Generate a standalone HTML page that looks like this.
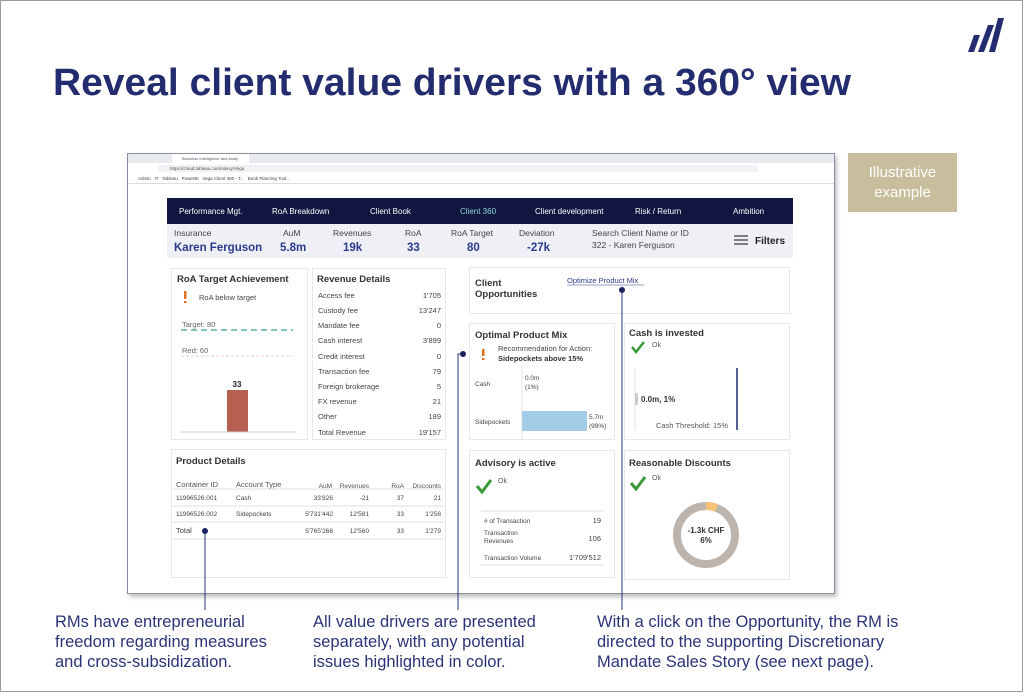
<!DOCTYPE html>
<html><head><meta charset="utf-8"><style>
*{margin:0;padding:0;box-sizing:border-box}
body{width:1024px;height:693px;background:#fff;position:relative;overflow:hidden;font-family:"Liberation Sans",sans-serif}
.a{position:absolute}
.p{position:absolute;background:#fff;border:1px solid #e6e8ee}
.bt{position:absolute;font-size:16.5px;line-height:20px;color:#2b3478}
</style></head><body>
<div class="a" style="left:0;top:0;width:1023px;height:692px;border:1px solid #9a9a9a"></div>
<svg class="a" style="left:0;top:0" width="1024" height="693">
<text x="53" y="95" font-size="38" font-weight="bold" fill="#232c6e" font-family="Liberation Sans" textLength="798" lengthAdjust="spacingAndGlyphs">Reveal client value drivers with a 360° view</text>
<g fill="#232c6e"><polygon points="968,52 974,52 980,35 974,35"/><polygon points="978,52 984,52 994,25 988,25"/><polygon points="989,52 995,52 1004,18 998,18"/></g>
</svg>
<div class="a" style="left:848px;top:153px;width:109px;height:59px;background:#c8bd9c;color:#fff;font-size:15px;line-height:20px;text-align:center;padding-top:10px">Illustrative<br>example</div>
<div class="a" style="left:127px;top:153px;width:708px;height:441px;background:#fff;border:1px solid #8a8fa8;box-shadow:2px 3px 4px rgba(0,0,0,.25)"></div>
<div class="a" style="left:128px;top:154px;width:706px;height:9px;background:#e8eaef"></div>
<div class="a" style="left:172px;top:154px;width:77px;height:9px;background:#fff;font-size:4px;color:#555;padding:2px 0 0 10px">Business Intelligence and Analy</div>
<div class="a" style="left:128px;top:163px;width:706px;height:11px;background:#fff"></div>
<div class="a" style="left:158px;top:165px;width:600px;height:7px;background:#f0f1f4;border-radius:3px;font-size:4.5px;color:#555;padding:1px 0 0 12px">https://cloud.tableau.com/savvy/Vega</div>
<div class="a" style="left:128px;top:174px;width:706px;height:10px;background:#fff;border-bottom:1px solid #ddd;font-size:4.5px;color:#444;padding:2px 0 0 10px">Admin &nbsp; IT &nbsp; Tableau &nbsp; PowerBI &nbsp; Vega Client 360 - T... &nbsp; Book Planning Tool...</div>
<div class="a" style="left:167px;top:198px;width:626px;height:26px;background:#10163f"></div>
<svg class="a" style="left:0;top:0" width="1024" height="693" font-family="Liberation Sans">
<g font-size="8" fill="#fff"><text x="179" y="214">Performance Mgt.</text><text x="272" y="214">RoA Breakdown</text><text x="370" y="214">Client Book</text><text x="460" y="214" fill="#8fd6e0">Client 360</text><text x="535" y="214">Client development</text><text x="635" y="214">Risk / Return</text><text x="733" y="214">Ambition</text></g>
</svg>
<div class="a" style="left:167px;top:224px;width:626px;height:34px;background:#eef0f5"></div>
<svg class="a" style="left:0;top:0" width="1024" height="693" font-family="Liberation Sans">
<g font-size="8.5" fill="#444"><text x="174" y="236">Insurance</text><text x="283" y="236">AuM</text><text x="333" y="236">Revenues</text><text x="405" y="236">RoA</text><text x="451" y="236">RoA Target</text><text x="519" y="236">Deviation</text><text x="592" y="236">Search Client Name or ID</text><text x="592" y="248">322 - Karen Ferguson</text></g>
<g font-size="11.5" font-weight="bold" fill="#2a3a8c"><text x="174" y="251">Karen Ferguson</text><text x="280" y="251">5.8m</text><text x="343" y="251">19k</text><text x="407" y="251">33</text><text x="467" y="251">80</text><text x="527" y="251">-27k</text></g>
<g stroke="#333" stroke-width="1.2"><line x1="734" y1="236" x2="748" y2="236"/><line x1="734" y1="240" x2="748" y2="240"/><line x1="734" y1="244" x2="748" y2="244"/></g>
<text x="755" y="244" font-size="10" font-weight="bold" fill="#222">Filters</text>
</svg>
<div class="p" style="left:171px;top:268px;width:137px;height:172px"></div>
<div class="p" style="left:312px;top:268px;width:134px;height:172px"></div>
<div class="p" style="left:171px;top:449px;width:275px;height:129px"></div>
<div class="p" style="left:469px;top:267px;width:321px;height:47px"></div>
<div class="p" style="left:469px;top:323px;width:146px;height:117px"></div>
<div class="p" style="left:624px;top:323px;width:166px;height:117px"></div>
<div class="p" style="left:469px;top:450px;width:146px;height:128px"></div>
<div class="p" style="left:624px;top:450px;width:166px;height:130px"></div>
<svg class="a" style="left:0;top:0" width="1024" height="693" font-family="Liberation Sans">
<g font-size="9.5" font-weight="bold" fill="#333">
<text x="177" y="282">RoA Target Achievement</text><text x="317" y="282">Revenue Details</text><text x="176" y="464">Product Details</text>
<text x="475" y="286">Client</text><text x="475" y="297">Opportunities</text>
<text x="475" y="338">Optimal Product Mix</text><text x="629" y="336">Cash is invested</text>
<text x="475" y="466">Advisory is active</text><text x="629" y="466">Reasonable Discounts</text></g>
<rect x="184" y="291" width="2.5" height="8" fill="#e07020"/><rect x="184" y="301" width="2.5" height="2" fill="#e07020"/>
<text x="199" y="300" font-size="7.5" fill="#444">RoA below target</text>
<text x="182" y="327" font-size="7.5" fill="#666">Target: 80</text>
<line x1="181" y1="330" x2="293" y2="330" stroke="#5fb0a8" stroke-width="1.5" stroke-dasharray="6,4"/>
<text x="182" y="353" font-size="7.5" fill="#666">Red: 60</text>
<line x1="181" y1="356" x2="293" y2="356" stroke="#f0d0c8" stroke-width="1" stroke-dasharray="3,2"/>
<rect x="227" y="390" width="21" height="42" fill="#b56050"/>
<text x="237" y="387" font-size="8" font-weight="bold" fill="#222" text-anchor="middle">33</text>
<line x1="181" y1="432" x2="295" y2="432" stroke="#ccc"/>
<g font-size="7.5" fill="#444"><text x="318" y="298">Access fee</text><text x="318" y="313">Custody fee</text><text x="318" y="328">Mandate fee</text><text x="318" y="343">Cash interest</text><text x="318" y="359">Credit interest</text><text x="318" y="374">Transaction fee</text><text x="318" y="389">Foreign brokerage</text><text x="318" y="404">FX revenue</text><text x="318" y="419">Other</text><text x="318" y="435">Total Revenue</text></g>
<g font-size="7.5" fill="#444" text-anchor="end"><text x="441" y="298">1'705</text><text x="441" y="313">13'247</text><text x="441" y="328">0</text><text x="441" y="343">3'899</text><text x="441" y="359">0</text><text x="441" y="374">79</text><text x="441" y="389">5</text><text x="441" y="404">21</text><text x="441" y="419">189</text><text x="441" y="435">19'157</text></g>
<g font-size="7.5" fill="#555"><text x="176" y="487">Container ID</text><text x="236" y="487">Account Type</text></g>
<g font-size="6.5" fill="#555" text-anchor="end"><text x="332" y="488">AuM</text><text x="369" y="488">Revenues</text><text x="404" y="488">RoA</text><text x="441" y="488">Discounts</text></g>
<g stroke="#e2e2e2"><line x1="173" y1="489" x2="444" y2="489"/><line x1="173" y1="506" x2="444" y2="506"/><line x1="173" y1="522" x2="444" y2="522"/><line x1="173" y1="539" x2="444" y2="539"/></g>
<g font-size="6.5" fill="#444"><text x="176" y="500">11996526.001</text><text x="236" y="500">Cash</text><text x="176" y="516">11996526.002</text><text x="236" y="516">Sidepockets</text><text x="176" y="533" font-size="7.5">Total</text></g>
<g font-size="6.5" fill="#444" text-anchor="end"><text x="333" y="500">33'826</text><text x="369" y="500">-21</text><text x="404" y="500">37</text><text x="441" y="500">21</text>
<text x="333" y="516">5'731'442</text><text x="369" y="516">12'581</text><text x="404" y="516">33</text><text x="441" y="516">1'258</text>
<text x="333" y="533">5'765'268</text><text x="369" y="533">12'560</text><text x="404" y="533">33</text><text x="441" y="533">1'279</text></g>
<text x="567" y="283" font-size="7.5" fill="#2a3a8c">Optimize Product Mix</text>
<line x1="567" y1="285" x2="644" y2="285" stroke="#2a3a8c" stroke-width=".6"/>
<rect x="482" y="349" width="2.5" height="7" fill="#e07020"/><rect x="482" y="358" width="2.5" height="2" fill="#e07020"/>
<text x="498" y="351" font-size="7.5" fill="#444">Recommendation for Action:</text>
<text x="498" y="361" font-size="7.5" font-weight="bold" fill="#333">Sidepockets above 15%</text>
<line x1="522" y1="365" x2="522" y2="440" stroke="#e6e6e6"/>
<g font-size="6.5" fill="#444"><text x="475" y="386">Cash</text><text x="475" y="424">Sidepockets</text><text x="525" y="380">0.0m</text><text x="525" y="389">(1%)</text><text x="589" y="419">5.7m</text><text x="589" y="428">(99%)</text></g>
<rect x="522" y="411" width="65" height="20" fill="#a3cce8"/>
<polyline points="632,347 636,352 644,342" fill="none" stroke="#3a9a3a" stroke-width="2.5"/>
<text x="652" y="347" font-size="7" fill="#555">Ok</text>
<line x1="635" y1="368" x2="635" y2="430" stroke="#e2e2e2"/>
<rect x="635" y="393" width="3" height="12" fill="#ccc"/>
<text x="641" y="402" font-size="8" font-weight="bold" fill="#333">0.0m, 1%</text>
<text x="656" y="428" font-size="7.5" fill="#555">Cash Threshold: 15%</text>
<line x1="737" y1="368" x2="737" y2="430" stroke="#1a2a6e" stroke-width="1.5"/>
<polyline points="477,486 482,492 491,480" fill="none" stroke="#3a9a3a" stroke-width="3"/>
<text x="498" y="483" font-size="7" fill="#555">Ok</text>
<g stroke="#ddd"><line x1="481" y1="511" x2="604" y2="511"/><line x1="481" y1="565" x2="604" y2="565"/></g>
<g font-size="6.5" fill="#444"><text x="484" y="523"># of Transaction</text><text x="484" y="535">Transaction</text><text x="484" y="543">Revenues</text><text x="484" y="560">Transaction Volume</text></g>
<g font-size="7.5" fill="#444" text-anchor="end"><text x="601" y="523">19</text><text x="601" y="541">106</text><text x="601" y="560">1'709'512</text></g>
<polyline points="631,483 636,489 645,477" fill="none" stroke="#3a9a3a" stroke-width="3"/>
<text x="652" y="480" font-size="7" fill="#555">Ok</text>
<circle cx="706" cy="535" r="29" fill="none" stroke="#bdb5ad" stroke-width="8"/>
<path d="M706,506 A29,29 0 0 1 716.6,508" fill="none" stroke="#f5c27a" stroke-width="8"/>
<text x="706" y="533" font-size="8" font-weight="bold" fill="#333" text-anchor="middle">-1.3k CHF</text>
<text x="706" y="543" font-size="8" font-weight="bold" fill="#333" text-anchor="middle">6%</text>
<g stroke="#2a3478" stroke-width="1" fill="none"><line x1="205" y1="531" x2="205" y2="610"/><polyline points="463,354 458,354 458,610"/><line x1="622" y1="290" x2="622" y2="610"/></g>
<g fill="#1a2160"><circle cx="205" cy="531" r="3"/><circle cx="463" cy="354" r="3"/><circle cx="622" cy="290" r="3"/></g>
</svg>
<div class="bt" style="left:55px;top:612px">RMs have entrepreneurial<br>freedom regarding measures<br>and cross-subsidization.</div>
<div class="bt" style="left:313px;top:612px">All value drivers are presented<br>separately, with any potential<br>issues highlighted in color.</div>
<div class="bt" style="left:597px;top:612px">With a click on the Opportunity, the RM is<br>directed to the supporting Discretionary<br>Mandate Sales Story (see next page).</div>
</body></html>
